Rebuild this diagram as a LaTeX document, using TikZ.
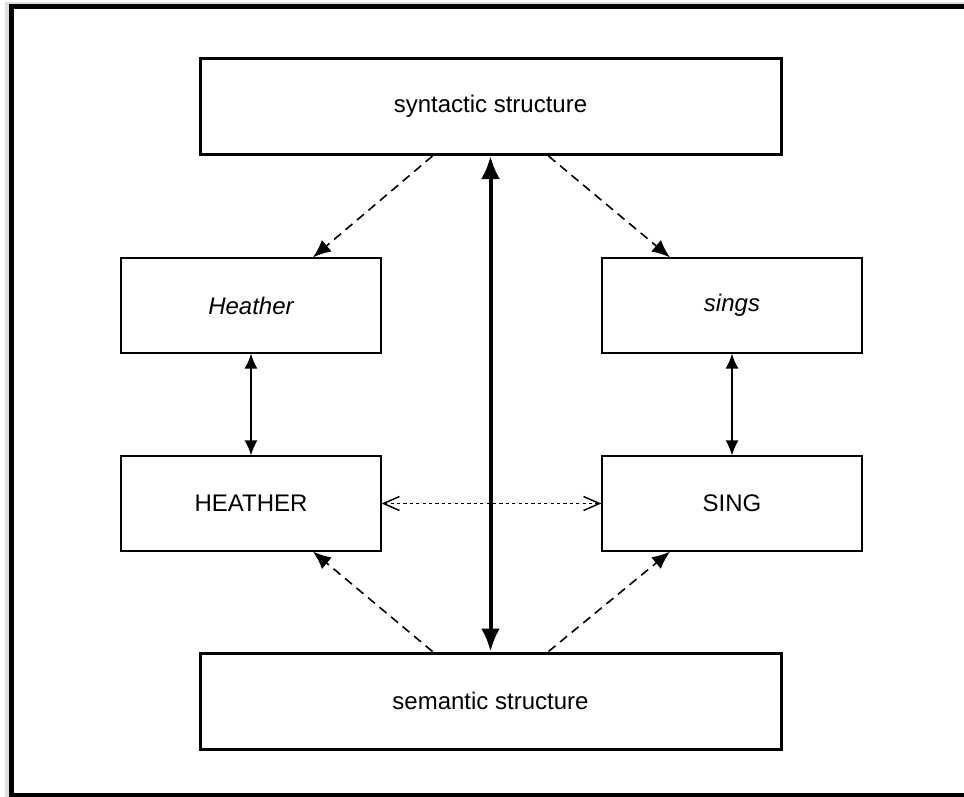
\documentclass[tikz,border=0pt]{standalone}
\usepackage{fontspec}
\setmainfont{Liberation Sans}
\usetikzlibrary{arrows.meta}
\tikzset{
  bigbox/.style={draw,line width=1.5pt,minimum width=290.5pt,minimum height=48pt,inner sep=0pt},
  smallbox/.style={draw,line width=0.6pt,minimum width=130pt,minimum height=47.5pt,inner sep=0pt},
  mainarrow/.style={line width=2pt,{Latex[length=11.5pt,width=9.5pt]}-{Latex[length=11.5pt,width=9.5pt]}},
  linkarrow/.style={line width=0.8pt,{Latex[length=7.5pt,width=6.5pt]}-{Latex[length=7.5pt,width=6.5pt]}},
  dasharrow/.style={line width=0.8pt,dash pattern=on 4.5pt off 3pt,-{Latex[length=9pt,width=7.5pt]}},
  dotarrow/.style={line width=0.75pt,dash pattern=on 1.6pt off 1.6pt,{Straight Barb[length=8pt,width=7pt]}-{Straight Barb[length=8pt,width=7pt]}}
}
\begin{document}
\begin{tikzpicture}[x=0.5pt,y=-0.5pt,font=\fontsize{12}{14}\selectfont]
  \useasboundingbox (0,0) rectangle (964,797);
  % frame
  \draw[gray!25,line width=2pt] (968,4) -- (7,4) -- (7,797);
  \draw[line width=2.5pt] (968,7) -- (11,7) -- (11,795.5) -- (968,795.5);
  % boxes
  \node[bigbox] (syn) at (490.5,106.5) {syntactic structure};
  \node[bigbox] (sem) at (490.5,701) {semantic structure};
  \node[smallbox] (heather) at (251,305.5) {\itshape Heather};
  \node[smallbox] (sings) at (732,305.5) {\itshape sings};
  \node[smallbox] (HEATHER) at (251,503.5) {HEATHER};
  \node[smallbox] (SING) at (732,503.5) {SING};
  % connectors
  \draw[mainarrow] (syn.south) -- (sem.north);
  \draw[linkarrow] (heather) -- (HEATHER);
  \draw[linkarrow] (sings) -- (SING);
  \draw[dotarrow] (HEATHER) -- (SING);
  \draw[dasharrow] ([xshift=-29pt]syn.south) -- ([xshift=31pt]heather.north);
  \draw[dasharrow] ([xshift=29pt]syn.south) -- ([xshift=-31pt]sings.north);
  \draw[dasharrow] ([xshift=-29pt]sem.north) -- ([xshift=31pt]HEATHER.south);
  \draw[dasharrow] ([xshift=29pt]sem.north) -- ([xshift=-31pt]SING.south);
\end{tikzpicture}
\end{document}
